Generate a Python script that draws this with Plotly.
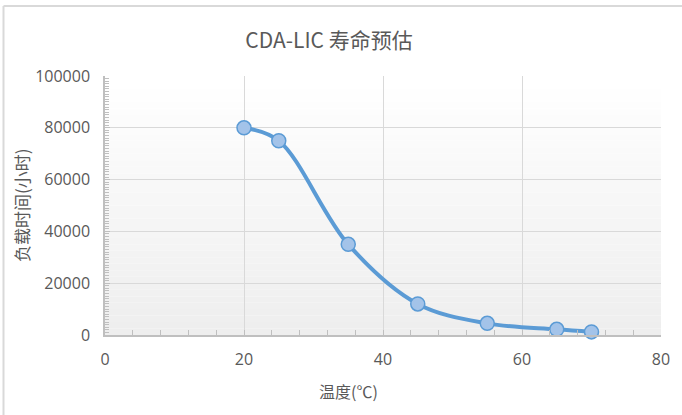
import plotly.graph_objects as go

# Estimated service life vs. temperature
temperature_c = [20, 25, 35, 45, 55, 65, 70]
load_hours = [80000, 75000, 35000, 12000, 4500, 2200, 1200]

x_ticks = [0, 20, 40, 60, 80]
y_ticks = [0, 20000, 40000, 60000, 80000, 100000]

W, H = 682, 415
ML, MR, MT, MB = 105, 21, 76, 80
PW, PH = W - ML - MR, H - MT - MB

GRAY_TEXT = "#595959"
GRID = "#d9d9d9"
AXIS = "#bfbfbf"
LINE = "#5b9bd5"


def px_to_paper_x(px):
    return (px - ML) / PW


def px_to_paper_y(py):
    return (H - MB - py) / PH


fig = go.Figure()
fig.add_trace(go.Scatter(
    x=temperature_c, y=load_hours,
    mode="lines+markers",
    line=dict(color=LINE, width=4, shape="spline", smoothing=1.0),
    marker=dict(size=14, color="#a3c3e9", line=dict(color=LINE, width=1.5)),
    showlegend=False,
    cliponaxis=False,
))

shapes = []
# soft vertical gradient in the plotting area (white at top, light gray at bottom)
n_bands = 40
for i in range(n_bands):
    t = i / (n_bands - 1)
    v = int(round(238 + (255 - 238) * t))
    shapes.append(dict(
        type="rect", xref="paper", yref="paper",
        x0=0, x1=1, y0=i / n_bands, y1=(i + 1) / n_bands,
        fillcolor=f"rgb({v},{v},{v})", line=dict(width=0), layer="below",
    ))

# chart frame: left and top edges
shapes.append(dict(type="line", xref="paper", yref="paper",
                   x0=px_to_paper_x(3.5), x1=px_to_paper_x(3.5),
                   y0=px_to_paper_y(H + 5), y1=px_to_paper_y(6),
                   line=dict(color="#d9d9d9", width=2)))
shapes.append(dict(type="line", xref="paper", yref="paper",
                   x0=px_to_paper_x(3.5), x1=px_to_paper_x(W + 5),
                   y0=px_to_paper_y(6), y1=px_to_paper_y(6),
                   line=dict(color="#d9d9d9", width=2)))

tick_font = dict(family="Open Sans, Liberation Sans, sans-serif", size=16, color=GRAY_TEXT)

annotations = [
    dict(text="温度(℃)", xref="paper", yref="paper",
         x=px_to_paper_x(348), y=px_to_paper_y(391),
         xanchor="center", yanchor="middle", showarrow=False,
         font=dict(family="Noto Sans CJK SC, serif", size=16, color=GRAY_TEXT)),
    dict(text="负载时间(小时)", xref="paper", yref="paper",
         x=px_to_paper_x(21), y=px_to_paper_y(205), textangle=-90,
         xanchor="center", yanchor="middle", showarrow=False,
         font=dict(family="Noto Sans CJK SC, sans-serif", size=17, color=GRAY_TEXT)),
]

fig.update_layout(
    width=W, height=H,
    margin=dict(l=ML, r=MR, t=MT, b=MB, pad=0),
    paper_bgcolor="white",
    plot_bgcolor="white",
    shapes=shapes,
    annotations=annotations,
    title=dict(
        text="CDA-LIC 寿命预估",
        x=329 / W, xanchor="center", xref="container",
        y=1 - 41 / H, yanchor="middle", yref="container",
        font=dict(family="Noto Sans CJK SC, sans-serif", size=21, color=GRAY_TEXT),
    ),
    xaxis=dict(
        range=[0, 80], tickvals=x_ticks, ticktext=[str(v) for v in x_ticks],
        showgrid=True, gridcolor=GRID, gridwidth=1,
        showline=True, linecolor=AXIS, linewidth=1.5, mirror=False,
        ticks="inside", ticklen=5, tickcolor=AXIS,
        minor=dict(dtick=4, tick0=0, ticks="inside", ticklen=5, tickcolor=AXIS, showgrid=False),
        tickfont=tick_font, zeroline=False, ticklabelstandoff=9,
    ),
    yaxis=dict(
        range=[0, 100000], tickvals=y_ticks, ticktext=[str(v) for v in y_ticks],
        showgrid=True, gridcolor=GRID, gridwidth=1,
        showline=True, linecolor=AXIS, linewidth=1.5, mirror=False,
        ticks="inside", ticklen=5, tickcolor=AXIS,
        minor=dict(dtick=1000, tick0=0, ticks="inside", ticklen=4, tickcolor=AXIS, showgrid=False),
        tickfont=tick_font, zeroline=False, ticklabelstandoff=10,
    ),
)

fig.write_html("out.html")
